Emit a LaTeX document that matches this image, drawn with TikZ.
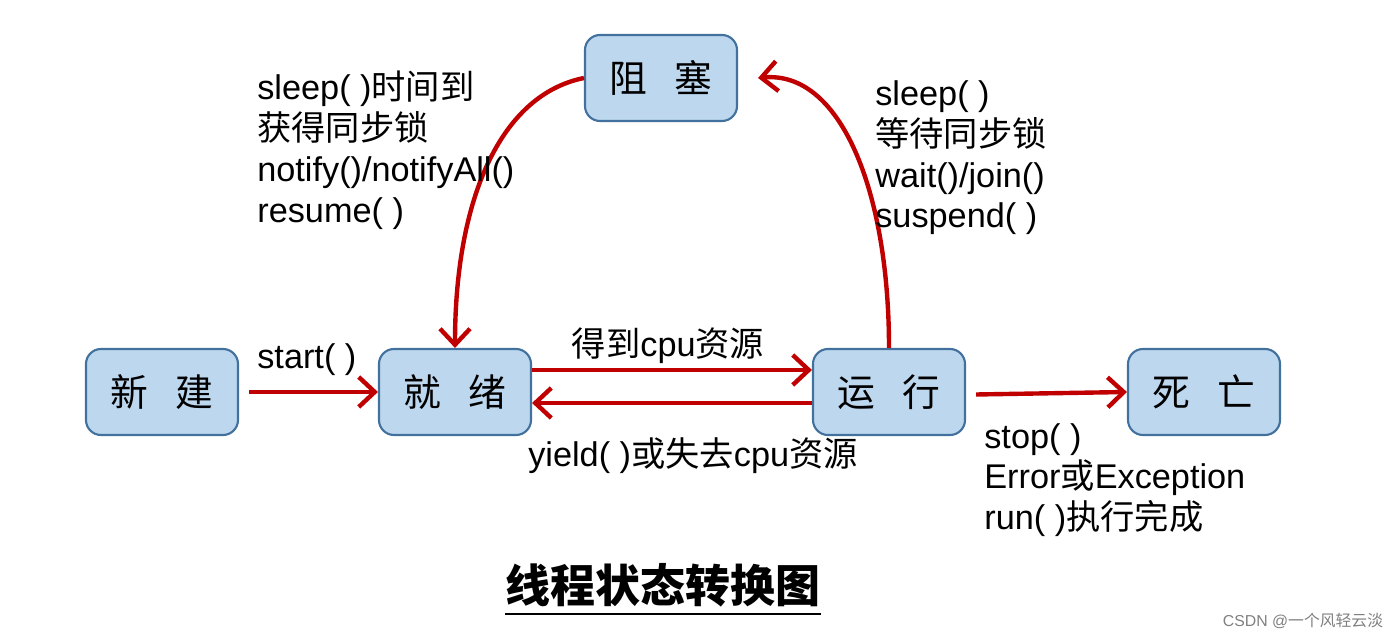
\documentclass[tikz,border=0pt]{standalone}
\usepackage{fontspec}
\setmainfont{Liberation Sans}
\newfontfamily\cjk{Noto Sans CJK SC}
\usetikzlibrary{arrows.meta}
\definecolor{boxfill}{RGB}{189,215,238}
\definecolor{boxline}{RGB}{65,113,156}
\definecolor{arrred}{RGB}{192,0,0}
\begin{document}
\begin{tikzpicture}[scale=1.0,
  >={Straight Barb[length=3.2mm,width=6mm]},
  state/.style={draw=boxline,line width=1.2pt,fill=boxfill,rounded corners=0.3cm,
    minimum width=3.04cm,minimum height=1.72cm,font=\cjk\fontsize{21.5}{24}\selectfont},
  arr/.style={->,line width=2.5pt,arrred},
  lbl/.style={font=\fontsize{19.5}{23.2}\selectfont,inner sep=0,align=left}]
\useasboundingbox (0,0) rectangle (28,12.76);
% states
\node[state] (zuse) at (13.22,11.20) {阻\hspace{0.55cm}塞};
\node[state] (xinjian) at (3.24,4.92) {新\hspace{0.55cm}建};
\node[state] (jiuxu) at (9.10,4.92) {就\hspace{0.55cm}绪};
\node[state] (yunxing) at (17.78,4.92) {运\hspace{0.55cm}行};
\node[state] (siwang) at (24.08,4.92) {死\hspace{0.55cm}亡};
% straight transitions
\draw[arr] ([xshift=2mm]xinjian.east) -- (jiuxu.west);
\draw[arr] ([yshift=4.4mm]jiuxu.east) -- ([yshift=4.4mm]yunxing.west);
\draw[arr] ([yshift=-2.2mm]yunxing.west) -- ([yshift=-2.2mm]jiuxu.east);
\draw[arr] ([xshift=2mm,yshift=-0.05cm]yunxing.east) -- (siwang.west);
% blocked loop
\draw[arr] (zuse.west) .. controls (10.0,10.86) and (9.10,8.76) .. (jiuxu.north);
\draw[arr] (yunxing.north) .. controls (17.78,8.96) and (16.8,11.36) .. ([xshift=4mm]zuse.east);
% labels
\node[lbl,anchor=north west] (lblback) at (5.14,11.34) {sleep( ){\cjk 时间到}\\{\cjk 获得同步锁}\\notify()/notifyAll()\\resume( )};
\node[lbl,anchor=north west] (lblblock) at (17.5,11.15) {sleep( )\\{\cjk 等待同步锁}\\wait()/join()\\suspend( )};
\node[lbl,anchor=base west] (lblstart) at (5.14,5.38) {start( )};
\node[lbl,anchor=base] (lblcpu) at (13.36,5.62) {{\cjk 得到}cpu{\cjk 资源}};
\node[lbl,anchor=base] (lblyield) at (13.86,3.42) {yield( ){\cjk 或失去}cpu{\cjk 资源}};
\node[lbl,anchor=north west] (lbldead) at (19.68,4.30) {stop( )\\Error{\cjk 或}Exception\\run( ){\cjk 执行完成}};
% title and mark
\node[inner sep=0] (title) at (13.26,1.05) {\cjk\bfseries\fontsize{25.6}{28}\selectfont 线程状态转换图};
\draw[line width=1.3pt] ([yshift=-1.2mm]title.south west) -- ([yshift=-1.2mm]title.south east);
\node[gray,font=\fontsize{9}{10}\selectfont] (mark) at (26.06,0.34) {CSDN @{\cjk 一个风轻云淡}};
\end{tikzpicture}
\end{document}
